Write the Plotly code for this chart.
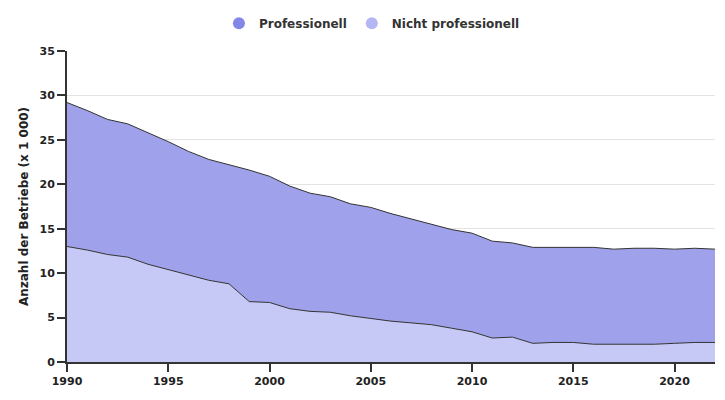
import plotly.graph_objects as go

years = list(range(1990, 2023))
nicht_prof = [13.0, 12.6, 12.1, 11.8, 11.0, 10.4, 9.8, 9.2, 8.8, 6.8, 6.7, 6.0, 5.7, 5.6, 5.2, 4.9,
              4.6, 4.4, 4.2, 3.8, 3.4, 2.7, 2.8, 2.1, 2.2, 2.2, 2.0, 2.0, 2.0, 2.0, 2.1, 2.2, 2.2]
total = [29.2, 28.3, 27.3, 26.8, 25.8, 24.8, 23.7, 22.8, 22.2, 21.6, 20.9, 19.8, 19.0, 18.6, 17.8, 17.4,
         16.7, 16.1, 15.5, 14.9, 14.5, 13.6, 13.4, 12.9, 12.9, 12.9, 12.9, 12.7, 12.8, 12.8, 12.7, 12.8, 12.7]
professionell = [round(t - n, 2) for t, n in zip(total, nicht_prof)]

FONT = "DejaVu Sans"
fig = go.Figure()
fig.add_trace(go.Scatter(x=years, y=nicht_prof, stackgroup="one", mode="lines",
                         line=dict(color="#333333", width=1), fillcolor="#c6c8f5",
                         name="Nicht professionell", showlegend=False))
fig.add_trace(go.Scatter(x=years, y=professionell, stackgroup="one", mode="lines",
                         line=dict(color="#333333", width=1), fillcolor="#9fa2eb",
                         name="Professionell", showlegend=False))
fig.add_trace(go.Scatter(x=[None], y=[None], mode="markers", name="Professionell",
                         marker=dict(color="#8388e8", size=12, symbol="circle")))
fig.add_trace(go.Scatter(x=[None], y=[None], mode="markers", name="Nicht professionell",
                         marker=dict(color="#b4b7f3", size=12, symbol="circle")))

fig.update_layout(
    width=725, height=400,
    margin=dict(l=67, r=10, t=51, b=38, autoexpand=False),
    paper_bgcolor="white", plot_bgcolor="white",
    font=dict(family=FONT, color="#222222"),
    legend=dict(orientation="h", traceorder="normal", x=0.513, xanchor="center", xref="container",
                y=0.978, yanchor="top", yref="container",
                font=dict(family=FONT, size=12, weight="bold", color="#333333"),
                itemsizing="constant"),
    xaxis=dict(range=[1990, 2022], tickvals=[1990, 1995, 2000, 2005, 2010, 2015, 2020],
               showgrid=False, showline=True, linecolor="#333333", linewidth=2,
               ticks="outside", ticklen=8, tickcolor="#333333", tickwidth=2,
               tickfont=dict(family=FONT, size=11, weight="bold", color="#222222"), zeroline=False),
    yaxis=dict(range=[0, 35], tickvals=[0, 5, 10, 15, 20, 25, 30, 35],
               showgrid=True, gridcolor="#e3e3e3", gridwidth=1,
               showline=True, linecolor="#333333", linewidth=2,
               ticks="outside", ticklen=8, tickcolor="#333333", tickwidth=2,
               tickfont=dict(family=FONT, size=11, weight="bold", color="#222222"), zeroline=False,
               title=dict(text="Anzahl der Betriebe (x 1 000)",
                          font=dict(family=FONT, size=12, weight="bold", color="#222222"),
                          standoff=8)),
)
fig.write_html("out.html")
